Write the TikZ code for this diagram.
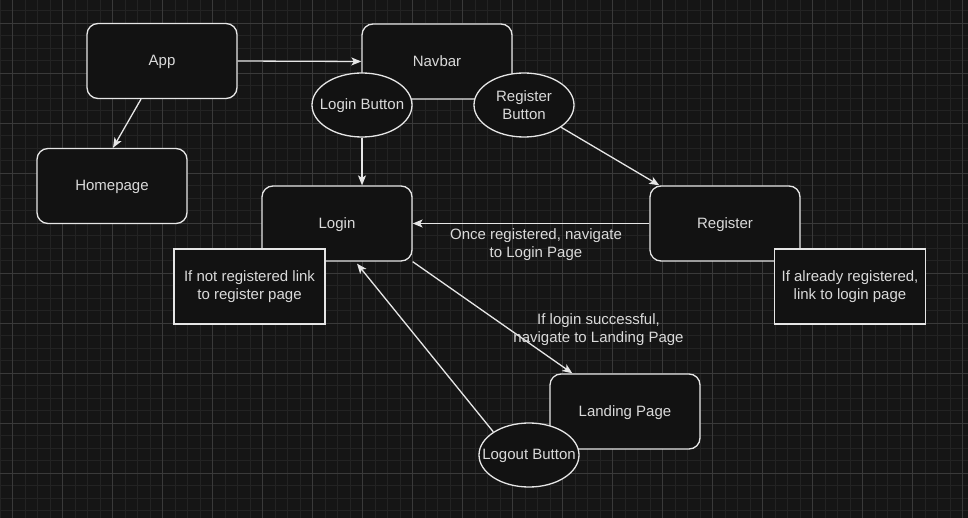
\documentclass[tikz,border=0pt]{standalone}
\usepackage{fontspec}
\setmainfont{Liberation Sans}
\usetikzlibrary{arrows.meta,calc,shapes.geometric}
\definecolor{bgc}{HTML}{151515}
\definecolor{nodefill}{HTML}{121212}
\definecolor{minorc}{HTML}{232323}
\definecolor{majorc}{HTML}{3A3A3A}
\definecolor{linec}{HTML}{E6E6E6}
\definecolor{textc}{HTML}{DADADA}
\tikzset{
  box/.style={draw=linec, fill=nodefill, line width=1.3pt, rounded corners=11pt,
    minimum width=150pt, minimum height=75pt, inner sep=0pt, text=textc,
    font=\fontsize{15}{18}\selectfont, align=center},
  oneline/.style={text height=13pt, text depth=3.3pt},
  notebox/.style={box, rounded corners=0pt, minimum width=151pt},
  oval/.style={draw=linec, fill=nodefill, line width=1.3pt, ellipse,
    minimum width=100pt, minimum height=64pt, inner sep=0pt},
  arr/.style={draw=linec, line width=1.3pt, -{Stealth[length=10pt,width=8pt,inset=2.5pt]}},
  lbl/.style={text=textc, font=\fontsize{15}{18}\selectfont, align=center, inner sep=0pt},
  minorline/.style={draw=minorc, line width=0.8pt},
  majorline/.style={draw=majorc, line width=1pt}
}
\begin{document}
\begin{tikzpicture}[x=1pt,y=-1pt]
\useasboundingbox (0,0) rectangle (968,518);
\fill[bgc] (0,0) rectangle (968,518);
% grid
\foreach \x in {0,12.5,...,968} \draw[minorline] (\x,0) -- (\x,518);
\foreach \y in {10.83,23.33,...,518} \draw[minorline] (0,\y) -- (968,\y);
\foreach \x in {12.5,62.5,...,968} \draw[majorline] (\x,0) -- (\x,518);
\foreach \y in {23.33,73.33,...,518} \draw[majorline] (0,\y) -- (968,\y);

% nodes
\node[box, oneline] (app) at (162,61) {App};
\node[box, oneline] (navbar) at (437,61.5) {Navbar};
\node[box, oneline] (home) at (112,186) {Homepage};
\node[box, oneline] (login) at (337,223.5) {Login};
\node[box, oneline] (register) at (725,223.5) {Register};
\node[box, oneline] (landing) at (625,411.5) {Landing Page};
\node[notebox] (note1) at (249.5,286.5) {If not registered link\\to register page};
\node[notebox] (note2) at (850,286.5) {If already registered,\\link to login page};
\node[oval, label={[lbl, oneline]center:Login Button}] (loginbtn) at (362,105) {};
\node[oval, label={[lbl]center:Register\\Button}] (regbtn) at (524,105) {};
\node[oval, label={[lbl, oneline]center:Logout Button}] (logout) at (529,455) {};

% connectors
\draw[arr] (app.east) -- (navbar.west);
\draw[arr] ($(app.south)+(-21,0)$) -- ($(home.north)+(1,0)$);
\draw[arr] (loginbtn.south) -- (loginbtn.south |- login.north);
\draw[arr] (regbtn.-31) -- ($(register.north west)+(10,0)$);
\draw[arr] (register.west) -- node[lbl, below=4pt, xshift=5pt] {Once registered, navigate\\to Login Page} (login.east);
\draw[arr] (login.south east) -- node[lbl, xshift=106pt, yshift=-12pt] {If login successful,\\navigate to Landing Page} ($(landing.north west)+(23,0)$);
\draw[arr] (logout.147) -- ($(login.south)+(20,2)$);
\end{tikzpicture}
\end{document}
